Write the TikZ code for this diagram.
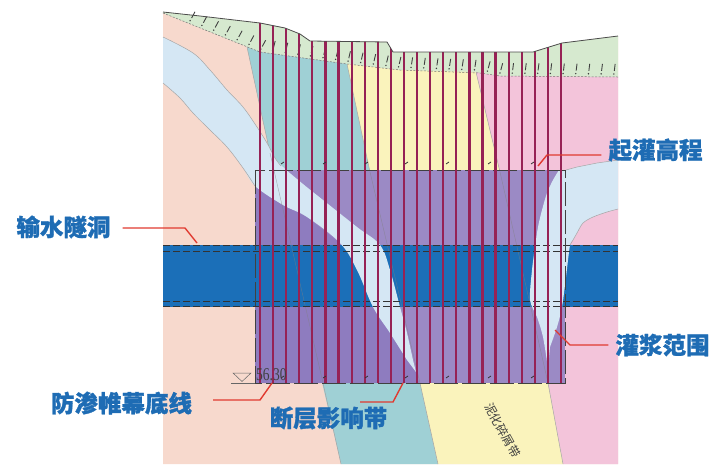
\documentclass[tikz,border=0pt]{standalone}
\usepackage{fontspec}
\setmainfont{Liberation Serif}
\newfontfamily\cjk{Noto Sans CJK SC}
\usetikzlibrary{decorations.markings}
\definecolor{peach}{HTML}{F7D9CD}
\definecolor{sky}{HTML}{D5E7F4}
\definecolor{faultteal}{HTML}{9FD0D5}
\definecolor{clayyellow}{HTML}{FAF3BC}
\definecolor{rosepink}{HTML}{F3C4DA}
\definecolor{soilgreen}{HTML}{D6E9CF}
\definecolor{groutA}{HTML}{9B8AC5}
\definecolor{groutB}{HTML}{8E7CBF}
\definecolor{tunnelblue}{HTML}{1B6FB8}
\definecolor{holered}{HTML}{962255}
\definecolor{labelblue}{HTML}{1E6CB4}
\definecolor{leaderred}{HTML}{E03A30}
\begin{document}
\begin{tikzpicture}[x=1pt,y=-1pt,
  callout/.style={font=\cjk\bfseries\addfontfeatures{FakeBold=1.2}\fontsize{23.5}{26}\selectfont, text=labelblue, inner sep=0pt},
  leader/.style={draw=leaderred, line width=1.4pt},
  holeline/.style={draw=holered, line width=2.2pt},
  tundash/.style={draw=black!80, line width=1pt, dash pattern=on 7pt off 3pt},
  boxline/.style={draw=black!75, line width=0.9pt, dash pattern=on 24pt off 4pt},
  faultline/.style={draw=black!50, line width=0.4pt, opacity=0.6},
  layeredge/.style={draw=black!35, line width=0.5pt},
  tickmark/.style={draw=black!80, line width=0.8pt},
]
\useasboundingbox (0,0) rectangle (711,464);

% rock mass below the ground surface
\fill[peach] (163,12) -- (200,16) -- (260,23) -- (285,28) -- (300,34) -- (310,41) -- (387,42) -- (393,52) -- (533,52) -- (562,43) -- (618,36) -- (618,464) -- (163,464) -- cycle;
% overburden soil
\fill[soilgreen] (163,12) -- (200,16) -- (260,23) -- (285,28) -- (300,34) -- (310,41) -- (387,42) -- (393,52) -- (533,52) -- (562,43) -- (618,36) -- (618,77) -- (500,76) -- (480,73) -- (400,70) -- (347,64) -- (260,52) -- (163,13) -- cycle;

% strata
\fill[faultteal] (247,47) -- (260,52) -- (347,64) -- (370,172) -- (276,172) -- (270,153) -- (260,107) -- cycle;
\fill[clayyellow] (347,64) -- (400,70) -- (476,72) -- (500,172) -- (370,172) -- cycle;
\fill[rosepink] (476,72) -- (480,73) -- (500,76) -- (618,77) -- (618,464) -- (563,464) -- (548,383) -- (500,172) -- cycle;
\fill[faultteal] (321,378) -- (419,378) -- (438,464) -- (341,464) -- cycle;
\fill[clayyellow] (419,378) -- (547,378) -- (563,464) -- (438,464) -- cycle;
\draw[layeredge] (247,47) -- (260,107) -- (270,153);
\draw[layeredge] (347,64) -- (370,172);
\draw[layeredge] (476,72) -- (500,172);
\draw[layeredge] (323,383) -- (341,464);
\draw[layeredge] (420,383) -- (438,464);
\draw[layeredge] (548,383) -- (563,464);

% grouted zone
\fill[groutA] (255,170) rectangle (565,383);
\fill[groutB] (255,186) -- (283,205) -- (307,217) -- (340,243) -- (357,270) -- (373,307) -- (390,333) -- (407,360) -- (416,372) -- (419,383) -- (255,383) -- cycle;

% water tunnel
\fill[tunnelblue] (163,245) rectangle (618,307);

% weathered bands
\fill[sky] plot[smooth, tension=0.6] coordinates {(163,37) (193,53) (210,70) (227,90) (243,107) (257,127) (267,143) (275,158) (283,167) (303,184) (323,200) (357,227) (380,245) (390,270) (400,307) (407,333) (413,360) (416,372)}
  -- plot[smooth, tension=0.6] coordinates {(407,360) (390,333) (373,307) (357,270) (340,243) (307,217) (283,205) (255,186) (243,168) (227,147) (210,130) (193,113) (180,98) (163,83)} -- cycle;
\draw[layeredge] plot[smooth, tension=0.6] coordinates {(163,37) (193,53) (210,70) (227,90) (243,107) (257,127) (267,143) (275,158) (281,166)};
\draw[layeredge] plot[smooth, tension=0.6] coordinates {(163,83) (180,98) (193,113) (210,130) (227,147) (243,168) (255,186)};
\fill[sky] plot[smooth, tension=0.5] coordinates {(559,170) (553,180) (547,193) (542,210) (538,227) (535,247) (532,270) (530,300) (537,317) (543,337) (548,368)}
  -- plot[smooth, tension=0.5] coordinates {(550,347) (557,327) (562,307) (566,277) (570,245) (573,240) (577,233) (583,223) (593,217) (607,212) (618,209)}
  -- (618,160) -- (597,163) -- (577,167) -- (566,170) -- cycle;
\draw[layeredge] plot[smooth, tension=0.5] coordinates {(570,245) (573,240) (577,233) (583,223) (593,217) (607,212) (618,209)};
\draw[layeredge] (566,170) -- (577,167) -- (597,163) -- (618,160);

% fault traces through the grouted zone
\draw[faultline] (270,153) -- (323,383);
\draw[faultline] (370,172) -- (420,383);
\draw[faultline] (500,172) -- (548,383);

% tunnel outline
\draw[tundash] (163,245.5) -- (618,245.5);
\draw[tundash] (163,251) -- (618,251);
\draw[tundash] (163,301.5) -- (618,301.5);
\draw[tundash] (163,306.5) -- (618,306.5);

% grouting range outline
\draw[boxline] (255,170) rectangle (565,383);

% base of the overburden with slope symbols
\draw[black!55, line width=0.5pt, dash pattern=on 2pt off 1.5pt,
  postaction={decorate, decoration={markings,
    mark=between positions 28pt and -4pt step 12.7pt with {
      \draw[solid, black!75, line width=0.9pt] (0.4pt,6pt) -- (1.2pt,13pt);
      \fill[black!75] (0pt,3pt) circle (0.8pt);
    }}}]
  (163,13) -- (260,52) -- (347,64) -- (400,70) -- (480,73) -- (500,76) -- (618,77);

% grout holes
\begin{scope}
\clip (163,12) -- (200,16) -- (260,23) -- (285,28) -- (300,34) -- (310,41) -- (387,42) -- (393,52) -- (533,52) -- (562,43) -- (618,36) -- (618,464) -- (163,464) -- cycle;
\foreach \i in {0,...,23}
  \draw[holeline] ({260+13.087*\i},0) -- ({260+13.087*\i},383);
\end{scope}

% ground surface
\draw[black!70, line width=0.8pt] (163,12) -- (200,16) -- (260,23) -- (285,28) -- (300,34) -- (310,41) -- (387,42) -- (393,52) -- (533,52) -- (562,43) -- (618,36);

% small marks at the top and bottom of the grouting range
\foreach \x in {283,325,367,407,448,490,533} {
  \draw[tickmark] ({\x-2},164) -- ({\x+1},162);
  \draw[tickmark] ({\x-2},378) -- ({\x+1},376);
}

% elevation mark
\draw[black!60, line width=0.5pt] (233,373) -- (251,373) -- (242,381.5) -- cycle;
\draw[black!60, line width=0.5pt] (231,383) -- (255,383);
\node[anchor=south west, inner sep=0pt, font=\fontsize{18}{18}\selectfont, text=black!75, xscale=0.75] (elev) at (256,381) {56.30};

% stratum name
\node[anchor=west, inner sep=0pt, rotate=-61, font=\cjk\fontsize{12}{13}\selectfont, text=black!75] (clayband) at (488,404) {泥化碎屑带};

% callouts
\node[callout] (tunnelLbl) at (63.5,227) {输水隧洞};
\node[callout] (startLbl) at (655.5,150) {起灌高程};
\node[callout] (rangeLbl) at (662.5,345) {灌浆范围};
\node[callout] (baseLbl) at (121.5,403) {防渗帷幕底线};
\node[callout] (faultLbl) at (328.5,418) {断层影响带};

\coordinate (tunnelBend) at (185,228);
\coordinate (tunnelTip) at (197,243);
\coordinate (startBend) at (547,155);
\coordinate (startTip) at (538,166);
\coordinate (rangeBend) at (570,345);
\coordinate (rangeTip) at (555,330);
\coordinate (baseBend) at (260,400);
\coordinate (baseTip) at (272,383);
\coordinate (faultBend) at (393,402);
\coordinate (faultTip) at (403,383);

\draw[leader] ([shift={(12pt,-1pt)}]tunnelLbl.east) -- (tunnelBend) -- (tunnelTip);
\draw[leader] ([shift={(-7pt,-5pt)}]startLbl.west) -- (startBend) -- (startTip);
\draw[leader] ([xshift=-7pt]rangeLbl.west) -- (rangeBend) -- (rangeTip);
\draw[leader] ([shift={(21pt,3pt)}]baseLbl.east) -- (baseBend) -- (baseTip);
\draw[leader] ([shift={(31.5pt,16pt)}]faultLbl.center) -- (faultBend) -- (faultTip);
\end{tikzpicture}
\end{document}
